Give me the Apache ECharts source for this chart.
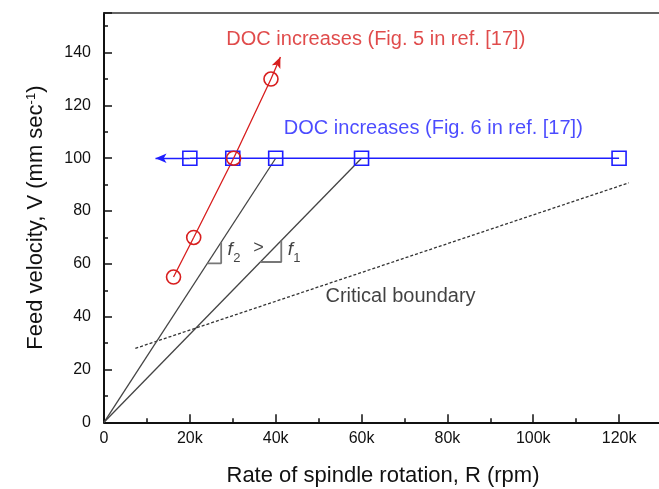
<!DOCTYPE html>
<html><head><meta charset="utf-8">
<script src="https://cdn.jsdelivr.net/npm/echarts@6/dist/echarts.min.js"></script>
<style>html,body{margin:0;padding:0;background:#fff;overflow:hidden}#c{width:659px;height:489px;overflow:hidden}</style>
</head><body><div id="c"></div>
<script>
// ---- data (R in rpm, V in mm/s) ----
const redR = [16200, 20900, 30200, 38900];
const redV = [55, 70, 100, 130];
const redArrowTip = [41100, 138.3];
const blueR = [20000, 30000, 40000, 60000, 120000];
const blueV = [100, 100, 100, 100, 100];
const blueArrowTip = [12000, 100];
const f2LineR = [0, 40000];
const f2LineV = [0, 100];
const f1LineR = [0, 60000];
const f1LineV = [0, 100];
const boundaryR = [7300, 122300];
const boundaryV = [28.0, 90.7];
const tri2R = [24100, 27300, 27300];
const tri2V = [60.2, 60.2, 68.3];
const tri1R = [36400, 41300, 41300];
const tri1V = [60.7, 60.7, 68.8];
const xTicks = [0, 20000, 40000, 60000, 80000, 100000, 120000];
const yTicks = [0, 20, 40, 60, 80, 100, 120, 140];
const labelTexts = ['DOC increases (Fig. 5 in ref. [17])', 'DOC increases (Fig. 6 in ref. [17])', 'Critical boundary'];
const labelR = [28500, 41900, 51600];
const labelV = [145, 111.2, 47.8];

const zip = (a, b) => a.map((v, i) => [v, b[i]]);
const RED = '#d81e1e', BLUE = '#1e1eff', GRAY = '#444';
const FONT = 'Liberation Sans, Arial';

const axisCommon = {
  axisLine: { show: true, onZero: false, lineStyle: { color: '#111', width: 2 } },
  axisTick: { show: true, inside: true, length: 8, lineStyle: { color: '#111', width: 1.5 } },
  minorTick: { show: true, splitNumber: 2, length: 4, lineStyle: { color: '#111', width: 1.5 } },
  splitLine: { show: false }
};

const chart = echarts.init(document.getElementById('c'));
chart.setOption({
  animation: false,
  backgroundColor: '#fff',
  grid: { left: 104, top: 13, width: 558, height: 409.3, show: false, outerBoundsMode: 'none', containLabel: false },
  xAxis: [{
    type: 'value', min: 0, max: 130000, interval: 20000,
    name: 'Rate of spindle rotation, R (rpm)', nameLocation: 'middle', nameGap: 43,
    nameTextStyle: { fontFamily: FONT, fontSize: 22, color: '#111' },
    ...axisCommon,
    axisLabel: { showMaxLabel: false, margin: 8, fontFamily: FONT, fontSize: 16, color: '#111',
      formatter: v => xTicks.includes(v) ? (v === 0 ? '0' : (v / 1000) + 'k') : '' }
  }, {
    type: 'value', min: 0, max: 130000, position: 'top',
    axisLine: { show: true, onZero: false, lineStyle: { color: '#333', width: 1.5 } },
    axisTick: { show: false }, axisLabel: { show: false }, splitLine: { show: false }
  }],
  yAxis: {
    type: 'value', min: 0, max: 155, interval: 20,
    name: '{a|Feed velocity, V (mm sec}{b|-1}{a|)}', nameLocation: 'middle', nameGap: 57, nameRotate: 90,
    nameTextStyle: { fontFamily: FONT, fontSize: 22, color: '#111',
      rich: { a: { fontFamily: FONT, fontSize: 22, color: '#111' },
              b: { fontFamily: FONT, fontSize: 13, color: '#111', verticalAlign: 'top' } } },
    ...axisCommon,
    axisLabel: { showMaxLabel: false, margin: 13, fontFamily: FONT, fontSize: 16, color: '#111',
      formatter: v => yTicks.includes(v) ? String(v) : '' }
  },
  series: [
    { type: 'line', data: zip(boundaryR, boundaryV), symbol: 'none', lineStyle: { color: '#333', width: 1.3, type: [3, 2] } },
    { type: 'line', data: zip(f2LineR, f2LineV), symbol: 'none', lineStyle: { color: GRAY, width: 1.3 } },
    { type: 'line', data: zip(f1LineR, f1LineV), symbol: 'none', lineStyle: { color: GRAY, width: 1.3 } },
    { type: 'line', data: zip(tri2R, tri2V), symbol: 'none', lineStyle: { color: '#777', width: 1.8 } },
    { type: 'line', data: zip(tri1R, tri1V), symbol: 'none', lineStyle: { color: '#777', width: 1.8 } },
    { type: 'line', data: zip(blueR, blueV), symbol: 'rect', symbolSize: 14,
      itemStyle: { color: 'rgba(0,0,0,0)', borderColor: BLUE, borderWidth: 1.6 },
      lineStyle: { color: BLUE, width: 1.3 },
      markLine: { silent: true, symbol: ['none', 'arrow'], symbolSize: [7, 11], label: { show: false },
        lineStyle: { color: BLUE, width: 1.3, type: 'solid' },
        data: [[{ coord: [blueR[0], blueV[0]] }, { coord: blueArrowTip }]] } },
    { type: 'line', data: zip(redR, redV), symbol: 'circle', symbolSize: 14,
      itemStyle: { color: 'rgba(0,0,0,0)', borderColor: RED, borderWidth: 1.6 },
      lineStyle: { color: RED, width: 1.3 },
      markLine: { silent: true, symbol: ['none', 'arrow'], symbolSize: [7, 11], label: { show: false },
        lineStyle: { color: RED, width: 1.3, type: 'solid' },
        data: [[{ coord: [redR[3], redV[3]] }, { coord: redArrowTip }]] } },
    { type: 'scatter', symbolSize: 0, silent: true,
      label: { show: true, position: 'right', distance: 0, fontFamily: FONT, fontSize: 20,
        formatter: p => p.data.name },
      data: [
        { name: labelTexts[0], value: [labelR[0], labelV[0]], label: { color: RED } },
        { name: labelTexts[1], value: [labelR[1], labelV[1]], label: { color: BLUE } },
        { name: labelTexts[2], value: [labelR[2], labelV[2]], label: { color: '#111' } },
        { name: 'f', value: [28800, 65.2], label: { color: '#111', fontStyle: 'italic', fontSize: 19 } },
        { name: '2', value: [30100, 62.0], label: { color: '#111', fontSize: 13 } },
        { name: '>', value: [34800, 66], label: { color: '#111', fontSize: 18 } },
        { name: 'f', value: [42800, 65.2], label: { color: '#111', fontStyle: 'italic', fontSize: 19 } },
        { name: '1', value: [44100, 62.0], label: { color: '#111', fontSize: 13 } }
      ] }
  ]
});
</script></body></html>
